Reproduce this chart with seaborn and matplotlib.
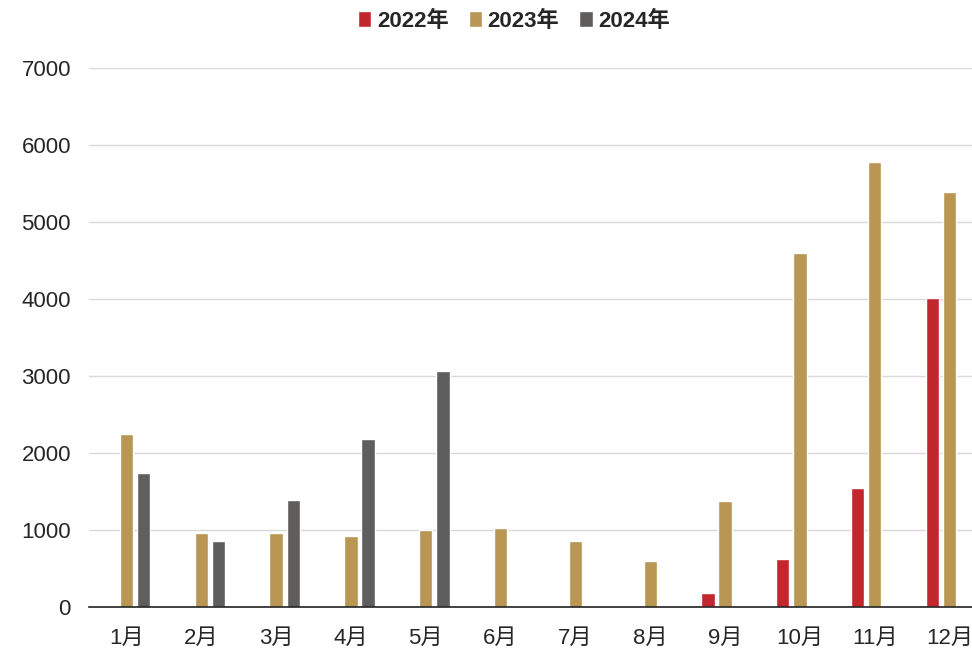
import numpy as np
import pandas as pd
import seaborn as sns
import matplotlib.pyplot as plt

months = ["1月", "2月", "3月", "4月", "5月", "6月", "7月", "8月", "9月", "10月", "11月", "12月"]
years = ["2022年", "2023年", "2024年"]
v2022 = [np.nan, np.nan, np.nan, np.nan, np.nan, np.nan, np.nan, np.nan, 180, 620, 1540, 4015]
v2023 = [2245, 960, 960, 925, 1000, 1025, 860, 600, 1380, 4595, 5775, 5395]
v2024 = [1740, 860, 1385, 2180, 3065, np.nan, np.nan, np.nan, np.nan, np.nan, np.nan, np.nan]
colors = ["#c1272d", "#b99653", "#5f5e5c"]

df = pd.DataFrame({
    "月份": months * 3,
    "年份": [y for y in years for _ in months],
    "数值": v2022 + v2023 + v2024,
})

sns.set_style("white")
plt.rcParams['font.family'] = ['Liberation Sans', 'Noto Sans CJK SC']

fig = plt.figure(figsize=(9.72, 6.53), dpi=100)
ax = fig.add_axes([89 / 972, 1 - 607 / 653, 898 / 972, 539 / 653])

sns.barplot(data=df, x="月份", y="数值", hue="年份", order=months, hue_order=years,
            palette=colors, width=0.69, gap=0.22, saturation=1, ax=ax)

ax.set_ylim(0, 7000)
ax.set_yticks(range(0, 7001, 1000))
ax.yaxis.grid(True, color="#d9d9d9", linewidth=1)
ax.set_axisbelow(True)
ax.set_xlabel("")
ax.set_ylabel("")
for s in ["top", "right", "left"]:
    ax.spines[s].set_visible(False)
ax.spines["bottom"].set_color("#222222")
ax.spines["bottom"].set_linewidth(1.2)
ax.tick_params(axis="y", length=0, labelsize=16, pad=13)
ax.tick_params(axis="x", length=0, labelsize=16, pad=15)

handles, labels = ax.get_legend_handles_labels()
ax.legend_.remove()
fig.legend(handles, labels, loc="center", bbox_to_anchor=(514 / 972, 1 - 21 / 653),
           ncol=3, frameon=False, handlelength=0.6, handleheight=0.75, handletextpad=0.25,
           columnspacing=0.9, prop={"weight": "bold", "size": 16})

fig.savefig("out.png", dpi=100)
